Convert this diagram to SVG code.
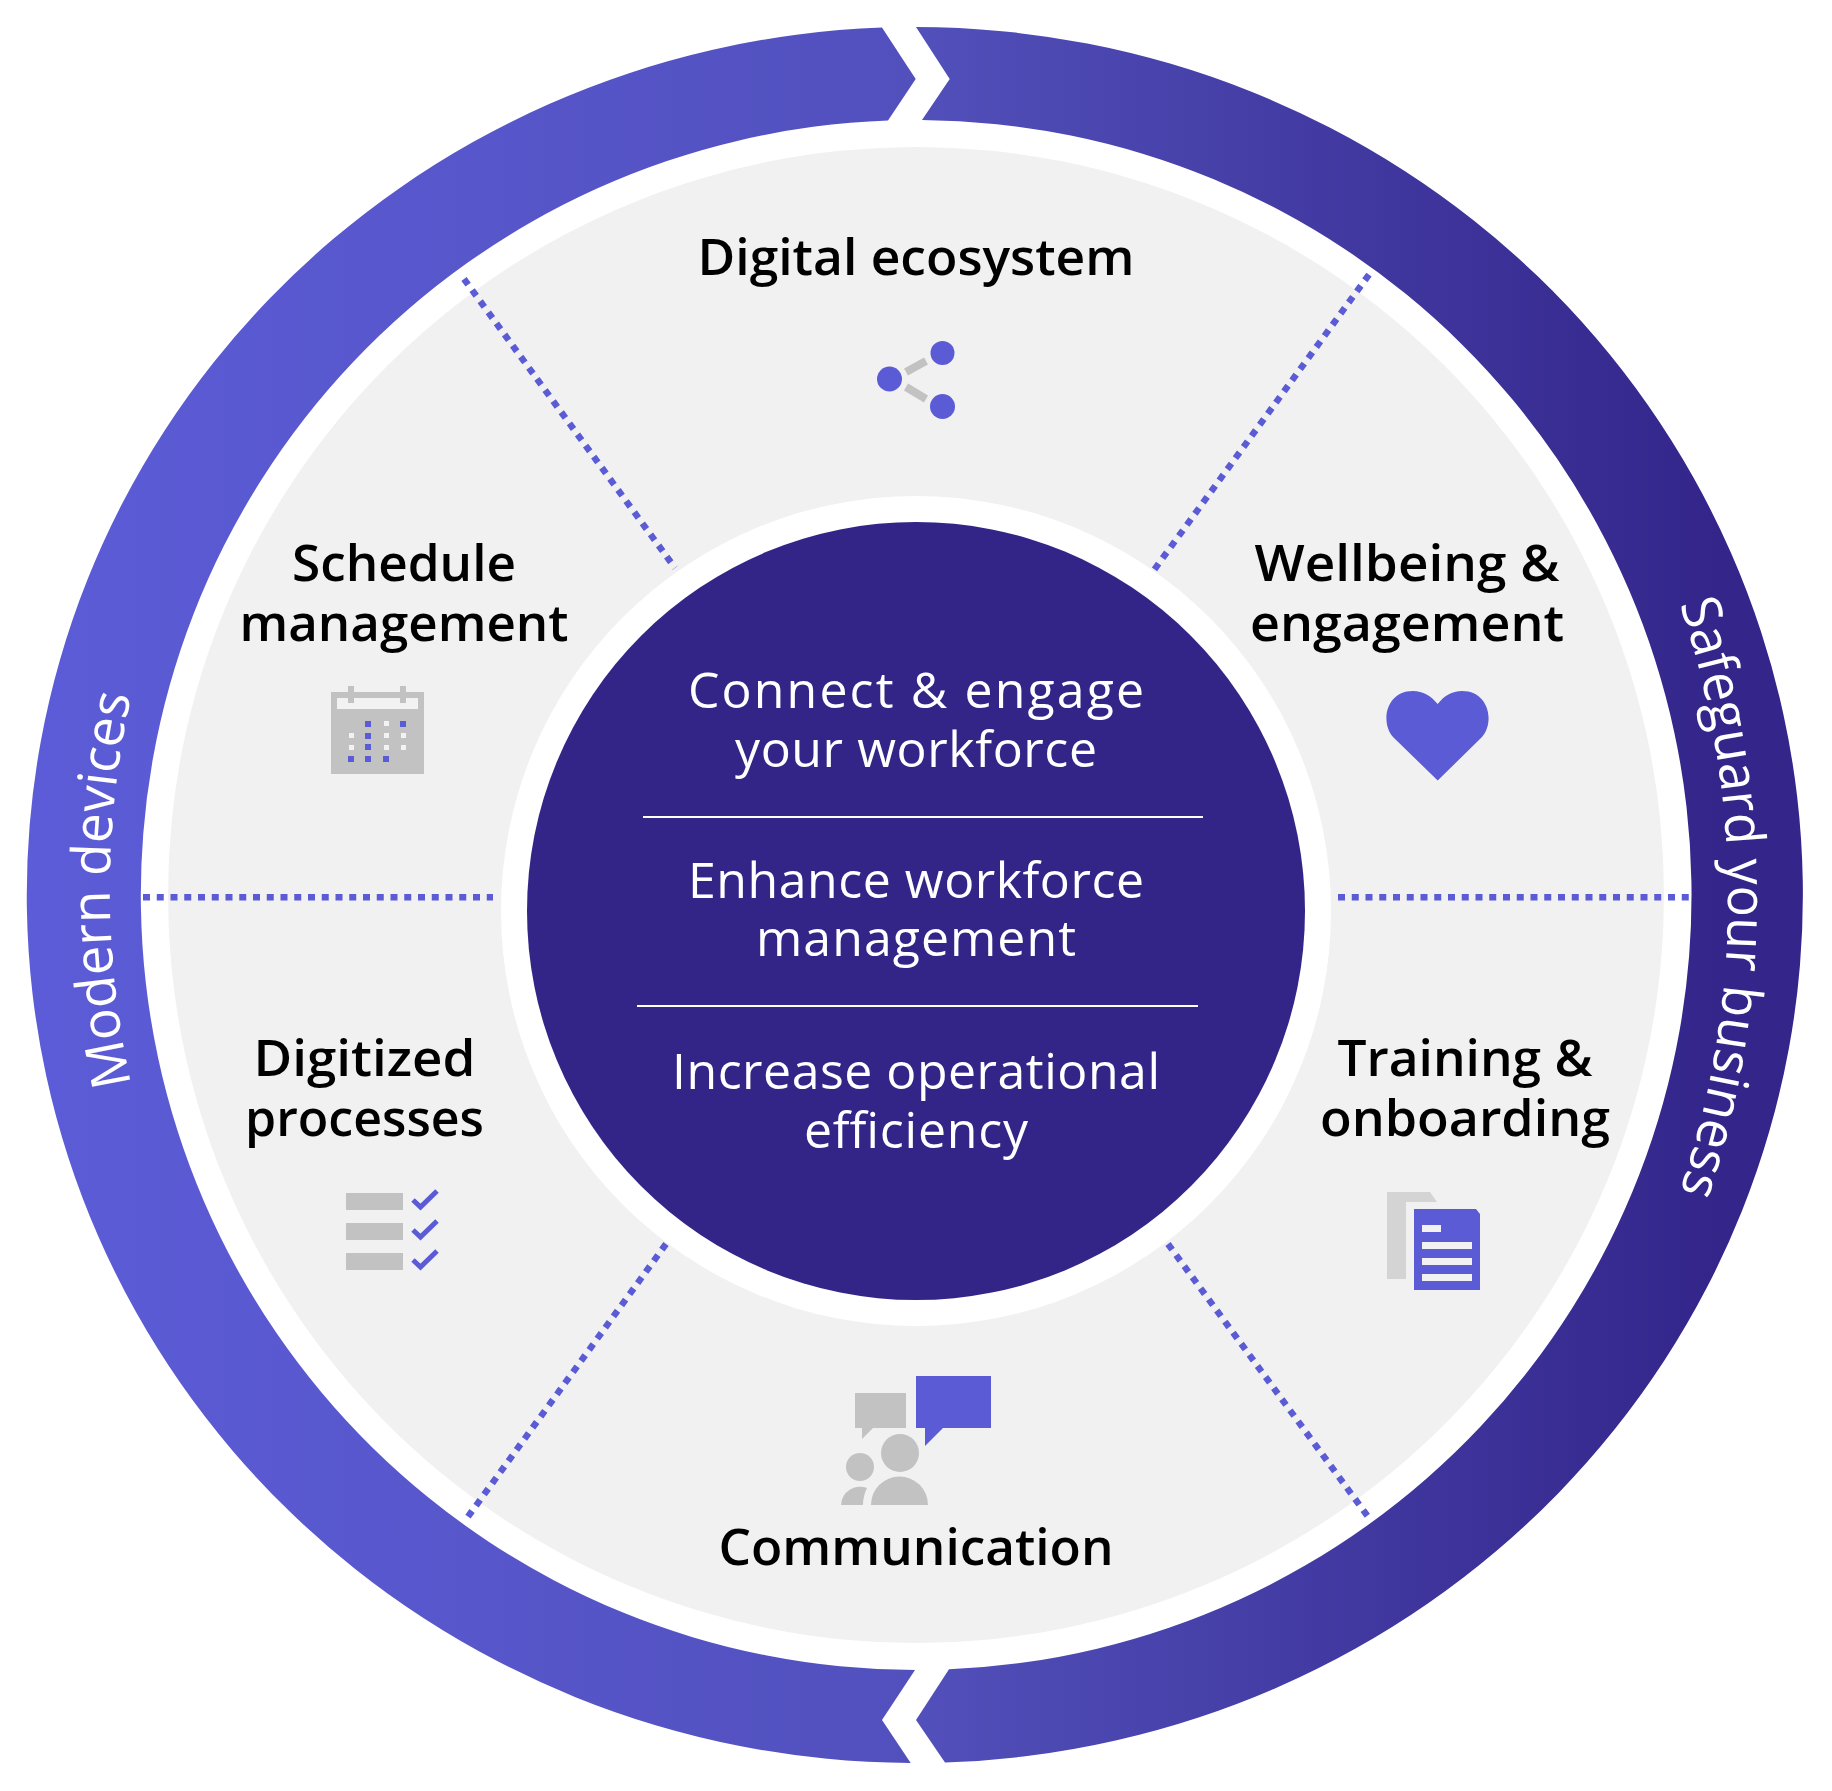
<svg xmlns="http://www.w3.org/2000/svg" width="1832" height="1791" viewBox="0 0 1832 1791">
<style>
.lbl{font-family:"Open Sans","Noto Sans","Liberation Sans",sans-serif;font-size:50px;font-weight:560;fill:#000;text-anchor:middle}
.ctr{font-family:"Open Sans","Noto Sans","Liberation Sans",sans-serif;font-size:50px;fill:#fff;text-anchor:middle}
.arc{font-family:"Open Sans","Noto Sans","Liberation Sans",sans-serif;font-size:54px;fill:#fff;text-anchor:start}
.dot{stroke:#5b5bd6;stroke-width:6.5;stroke-dasharray:7 6.75;fill:none}
.blue{fill:#5b5bd6}.grey{fill:#c2c2c2}.pale{fill:#f2f2f2}
</style>
<defs>
<linearGradient id="gl" gradientUnits="userSpaceOnUse" x1="28" y1="0" x2="916" y2="0"><stop offset="0" stop-color="#5c5cd8"/><stop offset="1" stop-color="#5250bd"/></linearGradient>
<linearGradient id="gr" gradientUnits="userSpaceOnUse" x1="916" y1="0" x2="1720" y2="0"><stop offset="0" stop-color="#5250bb"/><stop offset="1" stop-color="#33258a"/></linearGradient>
<path id="pl" d="M140 1120A893 893 0 0 1 140 660"/>
<path id="pr" d="M1662.700 558A918 918 0 0 1 1662.700 1238"/>
</defs>
<rect width="1832" height="1791" fill="#fff"/>
<g id="ring">
<path id="ring-left" fill="url(#gl)" d="M882 27.6A888 868 0 0 0 910.7 1763L882 1720L915 1670A775 775 0 0 1 888 120.5L915.7 79Z"/>
<path id="ring-right" fill="url(#gr)" d="M916 27A888 868 0 0 1 945 1762.5L916 1720L949 1669.3A775 775 0 0 0 922 120L949.7 79Z"/>
<text class="arc"><textPath href="#pl" startOffset="36.5" textLength="392" lengthAdjust="spacingAndGlyphs">Modern devices</textPath></text>
<text class="arc"><textPath href="#pr" startOffset="49" textLength="598" lengthAdjust="spacingAndGlyphs">Safeguard your business</textPath></text>
</g>
<circle cx="916" cy="895" r="748" fill="#f1f1f1"/>
<circle cx="916" cy="911" r="415" fill="#fff"/>
<g id="connectors">
<path class="dot" d="M143 897.3H493"/>
<path class="dot" d="M1338 897.3H1691"/>
<path class="dot" d="M464 279L675 568"/>
<path class="dot" d="M1369 274.6L1154 570"/>
<path class="dot" d="M666 1244L467 1518"/>
<path class="dot" d="M1168 1244L1369 1518"/>
</g>
<g id="center">
<circle cx="916" cy="911" r="389" fill="#332588"/>
<text class="ctr" x="916" y="708" textLength="456">Connect &amp; engage</text>
<text class="ctr" x="916" y="767" textLength="362">your workforce</text>
<path d="M643 817H1203" stroke="#fff" stroke-width="2"/>
<text class="ctr" x="916" y="898" textLength="456">Enhance workforce</text>
<text class="ctr" x="916" y="956" textLength="320">management</text>
<path d="M637 1006H1198" stroke="#fff" stroke-width="2"/>
<text class="ctr" x="916" y="1089" textLength="488">Increase operational</text>
<text class="ctr" x="916" y="1148" textLength="224">efficiency</text>
</g>
<g id="digital-ecosystem">
<text class="lbl" x="916" y="275" textLength="437" lengthAdjust="spacingAndGlyphs">Digital ecosystem</text>
<circle class="blue" cx="942.5" cy="353" r="12"/>
<circle class="blue" cx="889.5" cy="379" r="12.5"/>
<circle class="blue" cx="942.5" cy="406.5" r="12.5"/>
<path d="M906 372L926 361M906 387L926 399" stroke="#c2c2c2" stroke-width="8" fill="none"/>
</g>
<g id="schedule-management">
<text class="lbl" x="404" y="581" textLength="224" lengthAdjust="spacingAndGlyphs">Schedule</text>
<text class="lbl" x="404" y="641" textLength="329" lengthAdjust="spacingAndGlyphs">management</text>
<rect class="grey" x="331" y="692" width="93" height="82"/>
<rect class="pale" x="337" y="698" width="81" height="11"/>
<rect class="grey" x="348" y="686" width="6" height="17"/>
<rect class="grey" x="400" y="686" width="6" height="17"/>
<g class="pale"><rect x="384" y="721" width="5" height="5"/><rect x="349" y="733" width="5" height="5"/><rect x="384" y="733" width="5" height="5"/><rect x="401" y="733" width="5" height="5"/><rect x="349" y="745" width="5" height="5"/><rect x="384" y="745" width="5" height="5"/><rect x="401" y="745" width="5" height="5"/></g>
<g class="blue"><rect x="365" y="721" width="6" height="6"/><rect x="400" y="721" width="6" height="6"/><rect x="365" y="733" width="6" height="6"/><rect x="365" y="744" width="6" height="6"/><rect x="348" y="756" width="6" height="6"/><rect x="365" y="756" width="6" height="6"/><rect x="383" y="756" width="6" height="6"/></g>
</g>
<g id="wellbeing">
<text class="lbl" x="1407" y="581" textLength="305" lengthAdjust="spacingAndGlyphs">Wellbeing &amp;</text>
<text class="lbl" x="1407" y="641" textLength="314" lengthAdjust="spacingAndGlyphs">engagement</text>
<path class="blue" d="M1437.700 780.500L1393 737C1380 722 1386 691 1413 691C1423 691 1431 696 1437.700 704C1444 696 1452 691 1462 691C1489 691 1495 722 1482 737Z"/>
</g>
<g id="digitized-processes">
<text class="lbl" x="364.5" y="1076" textLength="222" lengthAdjust="spacingAndGlyphs">Digitized</text>
<text class="lbl" x="364.5" y="1136" textLength="239" lengthAdjust="spacingAndGlyphs">processes</text>
<rect class="grey" x="346" y="1193" width="57" height="17"/>
<rect class="grey" x="346" y="1223" width="57" height="17"/>
<rect class="grey" x="346" y="1253" width="57" height="17"/>
<path d="M413 1200L420.500 1207L437 1191M413 1230L420.500 1237L437 1221M413 1260L420.500 1267L437 1251" fill="none" stroke="#5b5bd6" stroke-width="5"/>
</g>
<g id="training">
<text class="lbl" x="1465" y="1076" textLength="255" lengthAdjust="spacingAndGlyphs">Training &amp;</text>
<text class="lbl" x="1465" y="1136" textLength="290" lengthAdjust="spacingAndGlyphs">onboarding</text>
<path fill="#d4d4d4" d="M1387 1192H1430L1437 1202H1406V1279H1387Z"/>
<path class="blue" d="M1414 1209H1476L1480 1214V1290H1414Z"/>
<g class="pale"><rect x="1422" y="1225" width="19" height="7"/><rect x="1422" y="1242" width="50" height="7"/><rect x="1422" y="1258" width="50" height="7"/><rect x="1422" y="1274" width="50" height="7"/></g>
</g>
<g id="communication">
<text class="lbl" x="916" y="1565" textLength="395" lengthAdjust="spacingAndGlyphs">Communication</text>
<path class="blue" d="M916 1376H991V1428H943L925 1446V1428H916Z"/>
<path class="grey" d="M855 1393H906V1428H873L862 1439V1428H855Z"/>
<circle class="grey" cx="900" cy="1453" r="19"/>
<circle class="grey" cx="860" cy="1467" r="14"/>
<path class="grey" d="M871 1505A28.500 28.500 0 0 1 928 1505Z"/>
<path class="grey" d="M841 1505A19 19 0 0 1 867 1488Q863 1496 863 1505Z"/>
</g>
</svg>
